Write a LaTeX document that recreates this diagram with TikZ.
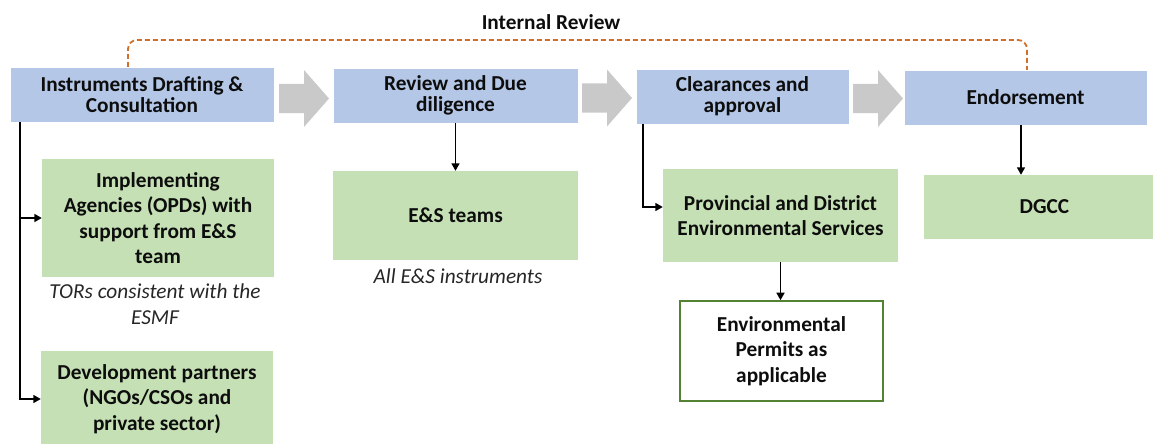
\documentclass[tikz,border=0pt]{standalone}
\usepackage{fontspec}
\setmainfont{Carlito}
\usetikzlibrary{arrows.meta}
\definecolor{stageblue}{HTML}{B4C7E7}
\definecolor{actorgreen}{HTML}{C5E0B4}
\definecolor{permitgreen}{HTML}{548235}
\definecolor{flowgray}{HTML}{C9C9C9}
\definecolor{reviewline}{HTML}{D0702C}
\definecolor{inktext}{HTML}{0D0D0D}
\definecolor{notetext}{HTML}{262626}
\tikzset{
  stage/.style={fill=stageblue, draw=white, line width=0.6pt, align=center,
    font=\fontsize{21.3}{21}\selectfont\bfseries, text=inktext, inner sep=0pt},
  actor/.style={fill=actorgreen, draw=none, align=center,
    font=\fontsize{21.3}{25.6}\selectfont\bfseries, text=inktext, inner sep=0pt},
  permit/.style={fill=white, draw=permitgreen, line width=1.6pt, align=center,
    font=\fontsize{21.3}{25.6}\selectfont\bfseries, text=inktext, inner sep=0pt},
  note/.style={align=center, font=\fontsize{21.3}{26}\selectfont\itshape, text=notetext, inner sep=0pt},
  conn/.style={line width=1.6pt, -{Triangle[length=7.5pt,width=8pt]}},
  loopline/.style={reviewline, line width=1.8pt, dash pattern=on 5pt off 3pt, rounded corners=9pt},
  pics/flowarrow/.style={code={
    \fill[flowgray] (0,-14.5) -- (25,-14.5) -- (25,-28.5) -- (50,0)
      -- (25,28.5) -- (25,14.5) -- (0,14.5) -- cycle;}}
}
\begin{document}
\begin{tikzpicture}[x=1pt,y=-1pt]
\useasboundingbox (0,0) rectangle (1154,444);

% process stages
\node[stage, minimum width=264, minimum height=55] (draft) at (142,94.5)
  {Instruments Drafting \&\\Consultation};
\node[stage, minimum width=245, minimum height=55] (due) at (455.5,95.5)
  {Review and Due\\diligence};
\node[stage, minimum width=213, minimum height=55] (clear) at (742.5,96.5)
  {Clearances and\\approval};
\node[stage, minimum width=243, minimum height=55] (endorse) at (1025.5,97.5)
  {Endorsement};

% block arrows between stages
\pic at (279,98.5) {flowarrow};
\pic at (582,98) {flowarrow};
\pic at (853,98.5) {flowarrow};

% internal review loop
\coordinate (loopa) at (128,67);
\coordinate (loopb) at (1027,70);
\draw[loopline] (loopa) -- (128,40) -- (1027,40) -- (loopb);
\node[font=\fontsize{21.3}{26}\selectfont\bfseries, text=inktext, anchor=base] (irev) at (551,30) {Internal Review};

% responsible parties
\node[actor, minimum width=232, minimum height=118] (impl) at (158,218)
  {Implementing\\Agencies (OPDs) with\\support from E\&S\\team};
\node[note] (tors) at (155,304) {TORs consistent with the\\ESMF};
\node[actor, minimum width=232, minimum height=96] (dev) at (157,399)
  {Development partners\\(NGOs/CSOs and\\private sector)};

\node[actor, minimum width=245, minimum height=89] (esteam) at (455.5,215.5) {E\&S teams};
\node[note, anchor=base] (allinst) at (458,283) {All E\&S instruments};

\node[actor, minimum width=235, minimum height=93] (prov) at (780.5,215.5)
  {Provincial and District\\Environmental Services};
\node[permit, minimum width=203, minimum height=100] (permits) at (781.5,351)
  {Environmental\\Permits as\\applicable};

\node[actor, minimum width=229, minimum height=64] (dgcc) at (1038.5,207) {\hspace*{12pt}DGCC};

% connectors
\coordinate (lrail) at (20,0);
\draw[conn] (draft.south -| lrail) |- (impl.west);
\draw[conn] (draft.south -| lrail) |- (dev.west);

\draw[conn] (due.south) -- (esteam.north);

\coordinate (bend) at (643,207);
\draw[conn] (clear.south -| bend) -- (bend) -- (prov.west |- bend);
\draw[conn] (prov.south) -- (permits.north -| prov.south);

\coordinate (endx) at (1021,0);
\draw[conn] (endorse.south -| endx) -- (dgcc.north -| endx);
\end{tikzpicture}
\end{document}
